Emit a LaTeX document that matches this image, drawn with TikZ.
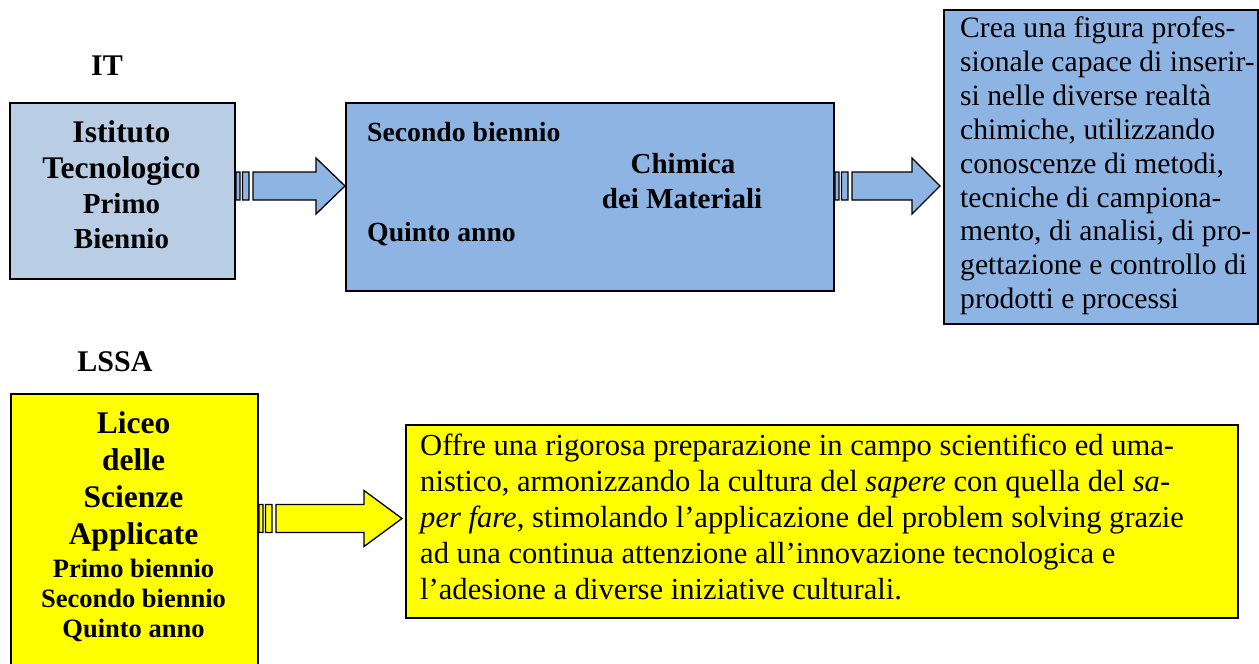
\documentclass[tikz,border=0pt]{standalone}
\usepackage{fontspec}
\setmainfont{Liberation Serif}
\usetikzlibrary{calc}

\definecolor{itblue}{RGB}{185,205,229}
\definecolor{chemblue}{RGB}{142,180,227}
\definecolor{lsyellow}{RGB}{255,255,0}

\newcommand{\fsz}[2]{\fontsize{#1}{#2}\selectfont}

% striped block arrow: fill, start, end, head length
\newcommand{\blockarrow}[4]{%
  \path[draw, fill=#1, line width=1.3pt, line join=miter] let \p1=(#2), \p2=(#3) in
    (\x1,\y1-14pt) rectangle (\x1+4pt,\y1+14pt)
    (\x1+6.5pt,\y1-14pt) rectangle (\x1+13pt,\y1+14pt)
    (\x1+17pt,\y1-14pt) -- (\x2-#4pt,\y1-14pt) -- (\x2-#4pt,\y1-28pt) -- (\x2,\y1)
    -- (\x2-#4pt,\y1+28pt) -- (\x2-#4pt,\y1+14pt) -- (\x1+17pt,\y1+14pt) -- cycle;
}

\tikzset{
  box/.style={draw, line width=2pt, inner sep=0pt, anchor=north west},
  head/.style={font=\fsz{30}{36}\bfseries, anchor=base, inner sep=0pt},
  big/.style={font=\fsz{31.5}{36}\bfseries, anchor=base, inner sep=0pt},
  mid/.style={font=\fsz{29}{34}\bfseries, anchor=base, inner sep=0pt},
  small/.style={font=\fsz{26.5}{30}\bfseries, anchor=base, inner sep=0pt},
  para/.style={align=left, inner sep=0pt, anchor=north west}
}

\begin{document}
\begin{tikzpicture}[x=1pt, y=-1pt]
\path[use as bounding box, clip] (0,0) rectangle (1259,664);

% IT
\node[head] (itlab) at (107,75) {IT};
\node[box, fill=itblue, minimum width=225pt, minimum height=176pt] (itbox) at (9,102) {};
\node[big] (ist) at (121.5,142) {Istituto};
\node[big] (tec) at (121.5,178) {Tecnologico};
\node[mid] (itprimo) at (121.5,213) {Primo};
\node[mid] (itbien) at (121.5,248) {Biennio};

\node[box, fill=chemblue, minimum width=488pt, minimum height=188pt] (midbox) at (345,102) {};
\node[small, font=\fsz{27.7}{33}\bfseries, anchor=base west] (midsec) at (367,141) {Secondo biennio};
\node[small, font=\fsz{27.7}{33}\bfseries, anchor=base west] (midquin) at (367,241) {Quinto anno};
\node[mid] (chim) at (683,173) {Chimica};
\node[mid] (mater) at (682,208) {dei Materiali};

\node[box, fill=chemblue, minimum width=314pt, minimum height=314pt] (rightbox) at (943,9) {};
\node[para, font=\fsz{29.6}{33.9}] (crea) at (960,16.5) {Crea una figura profes-\\sionale capace di inserir-\\si nelle diverse realtà\\chimiche, utilizzando\\conoscenze di metodi,\\tecniche di campiona-\\mento, di analisi, di pro-\\gettazione e controllo di\\prodotti e processi};

\blockarrow{chemblue}{$(itbox.east)+(0,-5)$}{midbox.west}{29}
\blockarrow{chemblue}{$(midbox.east)+(0,-11)$}{$(rightbox.west)+(-3,0)$}{28}

% LSSA
\node[head] (lslab) at (115,371) {LSSA};
\node[box, fill=lsyellow, minimum width=247pt, minimum height=290pt] (lsbox) at (10,393) {};
\node[big] (lic) at (133.5,433) {Liceo};
\node[big] (del) at (133.5,470) {delle};
\node[big] (sci) at (133.5,507) {Scienze};
\node[big] (app) at (133.5,544) {Applicate};
\node[small] (lsprimo) at (133.5,577) {Primo biennio};
\node[small] (lssec) at (133.5,607) {Secondo biennio};
\node[small] (lsquin) at (133.5,637) {Quinto anno};

\node[box, fill=lsyellow, minimum width=832pt, minimum height=193pt] (lstext) at (405,424) {};
\node[para, font=\fsz{30.6}{36}] (offre) at (420,433.5) {Offre una rigorosa preparazione in campo scientifico ed uma-\\nistico, armonizzando la cultura del \textit{sapere} con quella del \textit{sa-}\\\textit{per fare}, stimolando l’applicazione del problem solving grazie\\ad una continua attenzione all’innovazione tecnologica e\\l’adesione a diverse iniziative culturali.};

\blockarrow{lsyellow}{$(lsbox.east |- lstext.west)+(0,-3)$}{$(lstext.west)+(-3,0)$}{38}
\end{tikzpicture}
\end{document}
